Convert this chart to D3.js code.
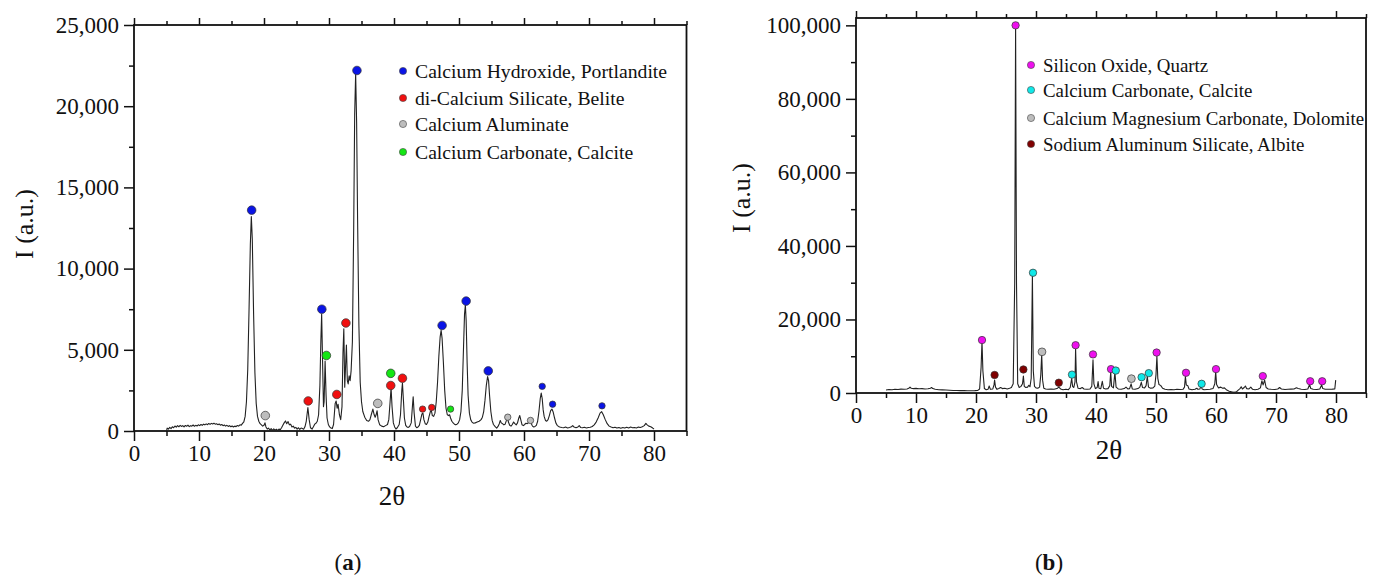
<!DOCTYPE html>
<html><head><meta charset="utf-8">
<script src="https://cdn.jsdelivr.net/npm/d3@7"></script>
<style>
body{margin:0;background:#fff}
svg{display:block}
text{font-family:"Liberation Serif","DejaVu Serif",serif;fill:#111}
</style>
</head><body>
<svg id="chart" width="1378" height="576"></svg>
<script>
// ---------- DATA ----------
const xTickValues = [0,10,20,30,40,50,60,70,80];
const xMinorValues = [5,15,25,35,45,55,65,75,85];
const yTicksA = [0,5000,10000,15000,20000,25000];
const yMinorA = [2500,7500,12500,17500,22500];
const yTicksB = [0,20000,40000,60000,80000,100000];
const yMinorB = [10000,30000,50000,70000,90000];

const legendA = ["Calcium Hydroxide, Portlandite","di-Calcium Silicate, Belite","Calcium Aluminate","Calcium Carbonate, Calcite"];
const legendB = ["Silicon Oxide, Quartz","Calcium Carbonate, Calcite","Calcium Magnesium Carbonate, Dolomite","Sodium Aluminum Silicate, Albite"];

// panel (a) spectrum: [2θ, intensity]
const spectrumA = [
[5.0,0],[5.1,180],[5.3,120],[5.5,220],[5.7,150],[5.9,260],[6.1,200],[6.3,310],[6.5,240],[6.7,330],[6.9,260],
[7.1,350],[7.3,280],[7.5,330],[7.7,250],[7.9,340],[8.1,290],[8.3,360],[8.5,270],[8.7,330],[8.9,300],
[9.1,370],[9.3,290],[9.5,350],[9.7,310],[9.9,380],[10.1,330],[10.3,400],[10.5,350],[10.7,420],[10.9,380],
[11.1,440],[11.3,390],[11.5,460],[11.7,410],[11.9,470],[12.1,430],[12.3,480],[12.5,420],[12.7,450],[12.9,390],
[13.1,430],[13.3,360],[13.5,400],[13.7,330],[13.9,370],[14.1,300],[14.3,350],[14.5,280],[14.7,330],[14.9,260],
[15.1,310],[15.3,250],[15.5,300],[15.7,270],[15.9,340],[16.1,300],[16.3,380],[16.5,360],[16.7,470],[16.9,560],
[17.1,900],[17.3,1800],[17.5,3800],[17.7,7500],[17.9,11500],[18.05,13200],[18.2,11800],[18.4,7200],[18.6,3600],
[18.8,1700],[19.0,900],[19.2,600],[19.4,450],[19.6,380],[19.8,300],[20.0,350],[20.15,500],[20.3,250],[20.5,120],
[20.7,180],[20.9,60],[21.1,150],[21.3,40],[21.5,130],[21.7,50],[21.9,110],[22.1,30],[22.3,120],[22.5,80],
[22.7,200],[22.9,350],[23.1,500],[23.3,620],[23.5,450],[23.7,580],[23.9,380],[24.1,420],[24.3,250],[24.5,300],
[24.7,180],[24.9,220],[25.1,120],[25.3,200],[25.5,100],[25.7,180],[25.9,150],[26.1,110],[26.3,260],[26.5,600],
[26.75,1450],[26.95,700],[27.15,200],[27.4,120],[27.6,260],[27.8,420],[28.0,480],[28.2,600],[28.4,1000],
[28.6,2800],[28.75,5600],[28.87,7200],[29.0,4500],[29.15,1500],[29.25,1800],[29.4,4300],[29.55,2200],[29.7,800],
[29.9,400],[30.1,250],[30.3,180],[30.5,150],[30.7,400],[30.95,1700],[31.1,1850],[31.25,1400],[31.4,1650],
[31.6,1000],[31.8,700],[32.0,1500],[32.15,4800],[32.28,6300],[32.42,2700],[32.55,4000],[32.68,5300],[32.82,3100],
[32.95,2900],[33.1,3400],[33.25,3100],[33.4,3700],[33.6,5500],[33.8,12500],[33.95,19500],[34.1,22000],
[34.25,19000],[34.4,13000],[34.6,6500],[34.8,3000],[35.0,1800],[35.2,1200],[35.5,850],[35.8,650],[36.1,600],
[36.3,700],[36.5,1000],[36.75,1350],[36.95,1000],[37.1,850],[37.25,1000],[37.4,1250],[37.55,700],[37.8,380],
[38.1,300],[38.4,260],[38.7,330],[39.0,400],[39.2,700],[39.4,1800],[39.55,2650],[39.7,1500],[39.9,500],
[40.1,250],[40.3,120],[40.5,200],[40.8,400],[41.0,1000],[41.2,2500],[41.3,2950],[41.45,1900],[41.6,800],
[41.8,350],[42.0,250],[42.2,220],[42.4,280],[42.65,500],[42.85,1600],[42.95,2100],[43.1,1100],[43.3,300],
[43.5,200],[43.7,250],[43.9,350],[44.1,700],[44.3,1050],[44.45,1100],[44.6,700],[44.8,450],[45.0,400],
[45.2,550],[45.4,900],[45.6,1200],[45.75,1250],[45.9,950],[46.1,900],[46.3,1100],[46.5,1800],[46.7,3000],
[46.9,4600],[47.1,5800],[47.25,6200],[47.4,5700],[47.6,4200],[47.8,2500],[48.0,1400],[48.2,1000],[48.4,950],
[48.55,1000],[48.7,800],[48.9,600],[49.1,500],[49.3,420],[49.5,380],[49.7,420],[49.9,500],[50.1,700],
[50.3,1200],[50.5,2500],[50.7,5200],[50.85,7200],[50.98,7750],[51.1,6800],[51.25,4200],[51.4,2200],[51.6,1100],
[51.8,700],[52.0,550],[52.2,480],[52.5,500],[52.8,550],[53.1,600],[53.4,700],[53.6,850],[53.8,1200],[54.0,1900],
[54.2,2800],[54.4,3350],[54.55,3100],[54.7,2200],[54.9,1200],[55.1,650],[55.3,400],[55.6,250],[55.8,180],
[56.0,280],[56.2,450],[56.35,650],[56.5,500],[56.7,450],[56.9,380],[57.1,420],[57.3,650],[57.45,850],[57.6,550],
[57.8,350],[58.0,300],[58.2,400],[58.4,550],[58.6,450],[58.8,380],[59.0,500],[59.2,800],[59.35,950],[59.5,700],
[59.7,380],[59.9,330],[60.1,400],[60.3,480],[60.5,450],[60.7,520],[60.9,650],[61.1,480],[61.3,300],[61.5,250],
[61.7,280],[61.9,350],[62.1,600],[62.3,1200],[62.5,2000],[62.65,2330],[62.8,2000],[62.95,1300],[63.1,900],
[63.3,650],[63.5,600],[63.7,700],[63.9,950],[64.1,1250],[64.3,1350],[64.5,1150],[64.7,800],[64.9,500],
[65.1,350],[65.3,280],[65.5,250],[65.8,220],[66.1,200],[66.4,240],[66.7,190],[67.0,220],[67.3,260],[67.5,330],
[67.7,240],[68.0,200],[68.3,250],[68.5,330],[68.7,220],[69.0,200],[69.3,230],[69.6,190],[69.9,220],[70.2,230],
[70.5,280],[70.8,380],[71.1,550],[71.4,800],[71.7,1100],[71.95,1190],[72.2,1000],[72.5,700],[72.8,450],
[73.1,300],[73.4,240],[73.7,200],[74.0,230],[74.3,180],[74.6,220],[74.9,170],[75.2,210],[75.5,180],[75.8,230],
[76.1,190],[76.4,240],[76.7,200],[77.0,220],[77.3,190],[77.6,240],[77.9,220],[78.2,260],[78.5,330],[78.75,470],
[78.95,380],[79.2,300],[79.5,260],[79.8,180],[80.0,120]
];

// panel (a) phase markers
const portlandite = [[18.1,13600],[28.9,7500],[34.3,22200],[47.4,6500],[51.1,8000],[54.5,3700]];
const portlanditeSmall = [[62.8,2750],[64.4,1650],[72.0,1550]];
const belite = [[26.8,1850],[31.2,2250],[32.6,6650],[39.5,2800],[41.3,3250]];
const beliteSmall = [[44.4,1350],[45.8,1450]];
const aluminate = [[20.2,950],[37.5,1700]];
const aluminateSmall = [[57.5,850],[61.0,650]];
const calciteA = [[29.6,4650],[39.5,3550]];
const calciteASmall = [[48.7,1350]];

// panel (b) spectrum
const spectrumB = [
[5.0,800],[5.5,950],[6.0,900],[6.5,1000],[7.0,950],[7.5,1050],[8.0,1000],[8.5,1100],[8.8,1300],[9.0,1600],
[9.2,1300],[9.6,1200],[10.0,1250],[10.5,1150],[11.0,1200],[11.5,1100],[12.0,1150],[12.4,1300],[12.6,1500],
[12.8,1200],[13.2,1000],[13.8,900],[14.4,850],[15.0,800],[15.6,750],[16.2,700],[16.8,700],[17.4,650],[18.0,650],
[18.6,600],[19.2,620],[19.8,650],[20.3,700],[20.6,1100],[20.85,7000],[21.0,14000],[21.15,6000],[21.4,1200],
[21.7,900],[22.0,1000],[22.2,1900],[22.4,1000],[22.8,1100],[23.0,2200],[23.1,3500],[23.25,1600],[23.5,1000],
[23.8,1200],[24.1,1500],[24.4,1200],[24.8,1300],[25.2,1100],[25.6,1300],[25.9,1500],[26.2,2500],[26.45,30000],
[26.6,100000],[26.75,30000],[26.95,2500],[27.2,1500],[27.5,1800],[27.75,2500],[27.9,4600],[28.05,1800],
[28.3,1500],[28.6,1600],[28.8,2100],[29.0,1700],[29.2,4000],[29.4,32000],[29.55,6000],[29.75,1800],[30.0,1400],
[30.3,1300],[30.6,1600],[30.8,5000],[30.95,10500],[31.1,3500],[31.3,1300],[31.6,1100],[32.0,1000],[32.5,1100],
[33.0,1000],[33.5,1200],[33.8,1600],[34.1,1100],[34.5,900],[35.0,1000],[35.4,900],[35.7,1500],[35.95,4000],
[36.1,1800],[36.3,1500],[36.5,3000],[36.6,12000],[36.75,3000],[37.0,1300],[37.4,1200],[37.7,1500],[38.0,1100],
[38.5,1000],[39.0,1100],[39.3,1800],[39.5,9000],[39.65,2500],[39.9,1200],[40.2,1500],[40.35,3100],[40.5,1300],
[40.8,1200],[41.05,3200],[41.25,1300],[41.6,1100],[42.0,1200],[42.3,2000],[42.45,5800],[42.6,1800],[42.9,1400],
[43.15,5600],[43.35,1600],[43.7,1100],[44.2,1000],[44.7,1200],[45.0,1600],[45.3,1100],[45.6,1200],[45.85,2500],
[46.05,1100],[46.5,1000],[47.0,1200],[47.3,1600],[47.55,2900],[47.75,1500],[48.1,1400],[48.35,2000],[48.55,4500],
[48.75,1600],[49.1,1300],[49.5,1400],[49.8,1900],[50.0,5000],[50.15,10000],[50.3,4000],[50.5,2300],[50.8,2000],
[51.1,1300],[51.5,1000],[52.0,900],[52.5,950],[53.0,900],[53.5,1000],[54.0,950],[54.5,1000],[54.75,1600],
[54.9,4500],[55.05,2200],[55.3,2000],[55.5,1100],[56.0,900],[56.5,1000],[56.8,1300],[57.0,1000],[57.3,1100],
[57.5,1800],[57.7,1100],[58.0,900],[58.5,950],[59.0,1000],[59.5,1200],[59.8,2500],[59.95,5800],[60.1,2300],
[60.4,1400],[60.8,1600],[61.1,1300],[61.4,1400],[61.8,800],[62.2,500],[62.6,300],[63.0,200],[63.4,300],
[63.7,800],[64.0,1200],[64.2,1700],[64.4,1100],[64.7,1500],[64.9,1900],[65.1,1200],[65.5,1100],[65.8,1600],
[66.1,1000],[66.5,900],[67.0,1000],[67.4,1400],[67.65,3300],[67.85,2200],[68.1,3500],[68.35,1500],[68.7,1100],
[69.2,1000],[69.8,950],[70.3,1100],[70.6,1500],[70.9,1100],[71.5,950],[72.0,1000],[72.5,1050],[73.0,1100],
[73.4,1400],[73.7,1200],[74.2,1000],[74.8,950],[75.3,1100],[75.6,2300],[75.8,1200],[76.2,1000],[76.8,950],
[77.3,1100],[77.6,2200],[77.8,1200],[78.2,1000],[78.8,1000],[79.4,1050],[79.8,1100],[79.95,3500]
];

// panel (b) phase markers
const quartz = [[21.0,14400],[26.6,100000],[36.6,13000],[39.5,10500],[42.5,6500],[50.1,11000],[55.0,5500],[60.0,6500],[67.8,4600],[75.7,3200],[77.7,3200]];
const calciteB = [[29.5,32700],[36.0,5000],[43.3,6100],[47.6,4300],[48.8,5400],[57.6,2500]];
const dolomite = [[31.0,11200],[45.9,3900]];
const albite = [[23.1,4900],[27.9,6400],[33.8,2800]];

// ---------- DRAW ----------
const svg = d3.select("#chart");
const fmtInt = d3.format("d");
const fmtComma = d3.format(",");

function panel(o){
  const g = svg.append("g");
  const x = d3.scaleLinear().domain([0,85]).range(o.xr);
  const y = d3.scaleLinear().domain(o.yd).range(o.yr);
  const y0 = o.yr[0], yTop = o.yr[1], xL = o.xr[0], xR = o.xr[1];

  const bx = g.append("g").attr("transform",`translate(0,${y0})`)
    .call(d3.axisBottom(x).tickValues(xTickValues).tickSize(10).tickPadding(4).tickFormat(fmtInt));
  bx.append("g").call(d3.axisBottom(x).tickValues(xMinorValues).tickSize(5).tickFormat(""));
  const tx = g.append("g").attr("transform",`translate(0,${yTop})`)
    .call(d3.axisTop(x).tickValues(xTickValues).tickSize(7).tickFormat(""));
  tx.append("g").call(d3.axisTop(x).tickValues(xMinorValues).tickSize(4).tickFormat(""));
  const ly = g.append("g").attr("transform",`translate(${xL},0)`)
    .call(d3.axisLeft(y).tickValues(o.yt).tickSize(10).tickPadding(5).tickFormat(fmtComma));
  ly.append("g").call(d3.axisLeft(y).tickValues(o.ym).tickSize(5).tickFormat(""));

  g.selectAll(".domain").remove();
  g.selectAll(".tick line").attr("stroke","#111").attr("stroke-width",1.5);
  g.selectAll(".tick text").attr("font-size",23).attr("font-family","Liberation Serif").attr("fill","#111");

  g.append("rect").attr("x",xL).attr("y",yTop).attr("width",xR-xL).attr("height",y0-yTop)
    .attr("fill","none").attr("stroke","#111").attr("stroke-width",1.8);

  g.append("path").datum(o.spec)
    .attr("d",d3.line().x(d=>x(d[0])).y(d=>y(d[1])))
    .attr("fill","none").attr("stroke","#222").attr("stroke-width",1.1).attr("stroke-linejoin","round");

  o.markers.forEach(m=>{
    g.selectAll(null).data(m.data).enter().append("circle")
      .attr("cx",d=>x(d[0])).attr("cy",d=>y(d[1])).attr("r",m.r)
      .attr("fill",m.color).attr("stroke","#333").attr("stroke-width",0.7);
  });

  o.legend.forEach((t,i)=>{
    const ly2 = o.legY[i];
    g.append("circle").attr("cx",o.legX).attr("cy",ly2).attr("r",3.6)
      .attr("fill",o.legColors[i]).attr("stroke","#444").attr("stroke-width",0.6);
    g.append("text").attr("x",o.legX+12).attr("y",ly2).attr("dy","0.35em")
      .attr("font-size",o.legFont).text(t);
  });

  g.append("text").attr("x",o.xt[0]).attr("y",o.xt[1]).attr("text-anchor","middle").attr("dy","0.35em")
    .attr("font-size",27).text("2θ");
  g.append("text").attr("transform",`translate(${o.yl[0]},${o.yl[1]}) rotate(-90)`)
    .attr("text-anchor","middle").attr("dy","0.35em").attr("font-size",26).text("I (a.u.)");
  const cap = g.append("text").attr("x",o.cap[0]).attr("y",o.cap[1]).attr("text-anchor","middle")
    .attr("font-size",23);
  cap.append("tspan").text("(");
  cap.append("tspan").attr("font-weight","bold").text(o.capLetter);
  cap.append("tspan").text(")");
}

panel({
  xr:[134,686.5], yd:[0,25000], yr:[431,25], yt:yTicksA, ym:yMinorA,
  spec:spectrumA,
  markers:[
    {data:portlandite,color:"#0a14e6",r:4.3},{data:portlanditeSmall,color:"#0a14e6",r:3.2},
    {data:belite,color:"#f01010",r:4.3},{data:beliteSmall,color:"#f01010",r:3.2},
    {data:aluminate,color:"#bdbdbd",r:4.3},{data:aluminateSmall,color:"#bdbdbd",r:3.2},
    {data:calciteA,color:"#14e614",r:4.3},{data:calciteASmall,color:"#14e614",r:3.2}
  ],
  legend:legendA, legColors:["#0a14e6","#f01010","#bdbdbd","#14e614"],
  legX:403, legY:[71,98,124,152], legFont:19.7,
  xt:[392,496], yl:[24,224], cap:[348,570], capLetter:"a"
});

panel({
  xr:[856,1366], yd:[0,102000], yr:[393,18], yt:yTicksB, ym:yMinorB,
  spec:spectrumB,
  markers:[
    {data:quartz,color:"#ee10ee",r:3.7},
    {data:calciteB,color:"#10e8e8",r:3.7},
    {data:dolomite,color:"#bdbdbd",r:3.9},
    {data:albite,color:"#800000",r:3.7}
  ],
  legend:legendB, legColors:["#ee10ee","#10e8e8","#bdbdbd","#800000"],
  legX:1031, legY:[65,90,118,144], legFont:18.9,
  xt:[1109,450], yl:[741,198], cap:[1049,570], capLetter:"b"
});
</script>
</body></html>
